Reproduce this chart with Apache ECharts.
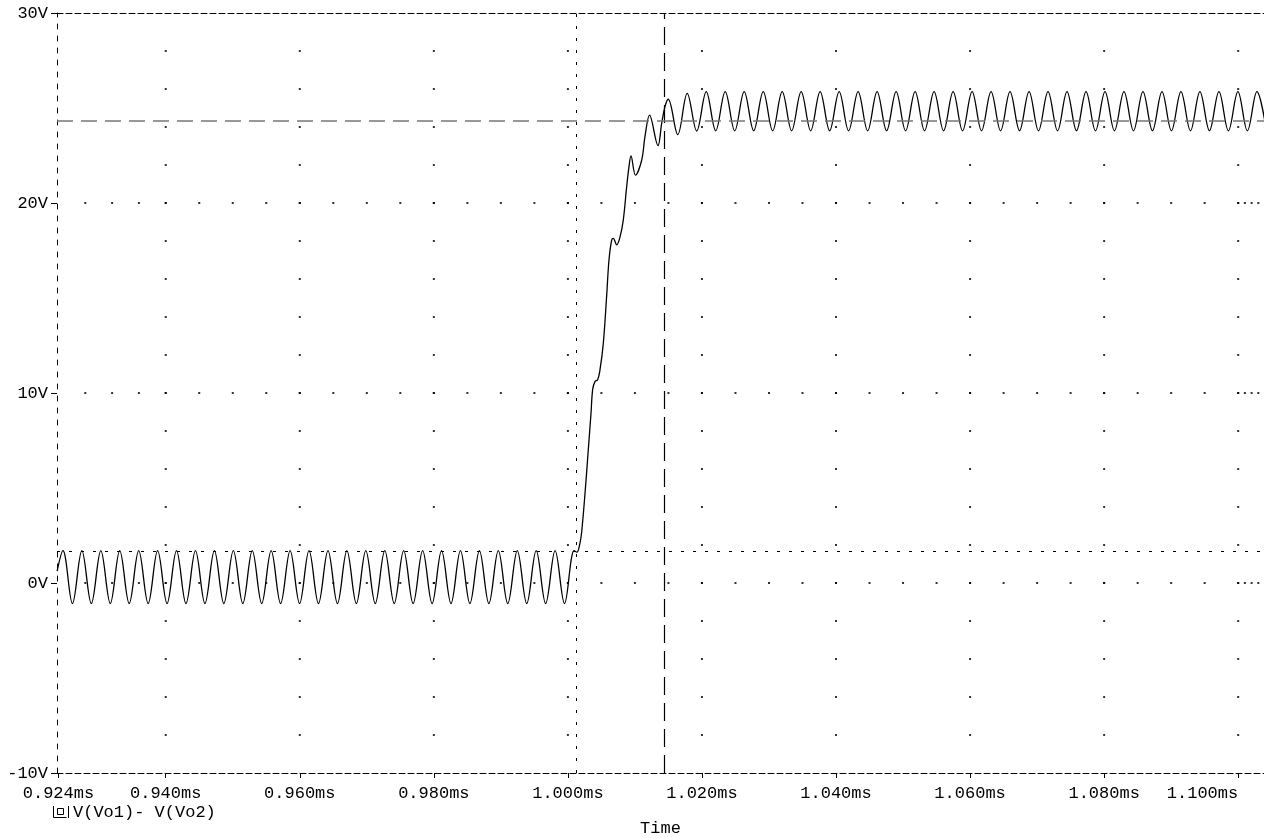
<!DOCTYPE html>
<html>
<head>
<meta charset="utf-8">
<title>V(Vo1)- V(Vo2)</title>
<script src="https://cdn.jsdelivr.net/npm/echarts@6.0.0/dist/echarts.min.js"></script>
<style>
  html, body { margin: 0; padding: 0; background: #fff; }
  #chart { width: 1264px; height: 838px; }
</style>
</head>
<body>
<div id="chart"></div>
<script>
// axis ticks
const timeTicks = [0.924, 0.94, 0.96, 0.98, 1.0, 1.02, 1.04, 1.06, 1.08, 1.1];
const voltTicks = [-10, 0, 10, 20, 30];

// waveform: time in ms, voltage in V
// before the step: ripple around ~0.3V
const lowT = [0.92380,
  0.92467, 0.92608, 0.92749, 0.92890, 0.93032, 0.93173, 0.93314, 0.93455,
  0.93597, 0.93738, 0.93879, 0.94020, 0.94161, 0.94302, 0.94444, 0.94585,
  0.94726, 0.94867, 0.95009, 0.95150, 0.95291, 0.95432, 0.95573, 0.95714,
  0.95856, 0.95997, 0.96138, 0.96279, 0.96421, 0.96562, 0.96703, 0.96844,
  0.96985, 0.97126, 0.97268, 0.97409, 0.97550, 0.97691, 0.97833, 0.97974,
  0.98115, 0.98256, 0.98397, 0.98538, 0.98680, 0.98821, 0.98962, 0.99103,
  0.99245, 0.99386, 0.99527, 0.99668, 0.99809, 0.99950, 1.00092];
const lowV = [0.62,
  1.70, -1.08, 1.70, -1.08, 1.70, -1.08, 1.70, -1.08,
  1.70, -1.08, 1.70, -1.08, 1.70, -1.08, 1.70, -1.08,
  1.70, -1.08, 1.70, -1.08, 1.70, -1.08, 1.70, -1.08,
  1.70, -1.08, 1.70, -1.08, 1.70, -1.08, 1.70, -1.08,
  1.70, -1.08, 1.70, -1.08, 1.70, -1.08, 1.70, -1.08,
  1.70, -1.08, 1.70, -1.08, 1.70, -1.08, 1.70, -1.08,
  1.70, -1.08, 1.70, -1.08, 1.70, -1.08, 1.70];

// the staircase rise
const rampT = [1.00135, 1.00180, 1.00206, 1.00255, 1.00304, 1.00344, 1.00370,
  1.00404, 1.00444, 1.00478, 1.00528, 1.00578, 1.00613, 1.00653, 1.00677,
  1.00728, 1.00777, 1.00826, 1.00877, 1.00911, 1.00941, 1.01008, 1.01101,
  1.01150, 1.01218, 1.01344, 1.01399, 1.01448];
const rampV = [1.62, 2.10, 2.70, 4.70, 7.00, 8.90, 10.20,
  10.60, 10.70, 11.20, 12.60, 15.10, 17.00, 18.05, 18.14,
  17.80, 18.20, 19.10, 20.86, 21.90, 22.48, 21.47, 22.26,
  23.50, 24.62, 23.02, 24.19, 25.07];

// after the step: ripple around ~24.8V
const highT = [
  1.01497, 1.01639, 1.01780, 1.01922, 1.02064, 1.02205, 1.02347, 1.02489,
  1.02630, 1.02772, 1.02914, 1.03055, 1.03197, 1.03338, 1.03480, 1.03622,
  1.03763, 1.03905, 1.04047, 1.04188, 1.04330, 1.04472, 1.04613, 1.04755,
  1.04897, 1.05038, 1.05180, 1.05321, 1.05463, 1.05605, 1.05747, 1.05888,
  1.06030, 1.06171, 1.06313, 1.06455, 1.06596, 1.06738, 1.06880, 1.07021,
  1.07163, 1.07305, 1.07446, 1.07588, 1.07730, 1.07871, 1.08013, 1.08154,
  1.08296, 1.08438, 1.08579, 1.08721, 1.08863, 1.09004, 1.09146, 1.09288,
  1.09429, 1.09571, 1.09713, 1.09854, 1.09996, 1.10137, 1.10279, 1.10421];
const highV = [
  25.46, 23.60, 25.77, 23.79, 25.86, 23.80, 25.86, 23.80,
  25.86, 23.80, 25.86, 23.80, 25.86, 23.80, 25.86, 23.80,
  25.86, 23.80, 25.86, 23.80, 25.86, 23.80, 25.86, 23.80,
  25.86, 23.80, 25.86, 23.80, 25.86, 23.80, 25.86, 23.80,
  25.86, 23.80, 25.86, 23.80, 25.86, 23.80, 25.86, 23.80,
  25.86, 23.80, 25.86, 23.80, 25.86, 23.80, 25.86, 23.80,
  25.86, 23.80, 25.86, 23.80, 25.86, 23.80, 25.86, 23.80,
  25.86, 23.80, 25.86, 23.80, 25.86, 23.80, 25.86, 23.80];

// probe cursors
const cursorTimes = [1.00131, 1.01438];   // dotted, long dash
const cursorVolts = [1.65, 24.34];        // dotted, long dash (grey)

const X_MIN = 0.92378, X_MAX = 1.10385;
const FONT = 'Liberation Mono';

// dotted grid: dots on the vertical lines every 2V, on the horizontal lines at the minor time steps
const vertDotVolts = [];
for (let v = -8; v <= 28; v += 2) vertDotVolts.push(v);
const horizGridVolts = [0, 10, 20];
const horizDotTimes = [0.928, 0.932, 0.936];
for (let t = 940; t <= 1100; t += 5) horizDotTimes.push(t / 1000);
horizDotTimes.push(1.101, 1.102, 1.103);

const gridDots = [];
timeTicks.slice(1).forEach(t => vertDotVolts.forEach(v => gridDots.push([t, v])));
horizGridVolts.forEach(v => horizDotTimes.forEach(t => gridDots.push([t, v])));

const wave = [];
[[lowT, lowV], [rampT, rampV], [highT, highV]].forEach(([ts, vs]) => {
  ts.forEach((t, i) => wave.push([t, vs[i]]));
});

const chart = echarts.init(document.getElementById('chart'), null, { renderer: 'canvas' });

chart.setOption({
  animation: false,
  backgroundColor: '#fff',
  textStyle: { fontFamily: FONT },
  grid: { left: 57, top: 13, right: 0, bottom: 65, outerBoundsMode: 'none' },
  xAxis: [{
    type: 'value',
    min: X_MIN,
    max: X_MAX,
    position: 'bottom',
    name: 'Time',
    nameLocation: 'middle',
    nameGap: 47,
    nameTextStyle: { fontFamily: FONT, fontSize: 17, color: '#000' },
    axisLine: { show: true, onZero: false, lineStyle: { color: '#000', width: 1, type: [6, 3] } },
    axisTick: { show: true, inside: false, length: 5, customValues: timeTicks, lineStyle: { color: '#000' } },
    axisLabel: {
      customValues: timeTicks,
      formatter: v => v.toFixed(3) + 'ms',
      fontFamily: FONT, fontSize: 17, color: '#000', margin: 12,
      alignMaxLabel: 'right'
    },
    splitLine: { show: false }
  }, {
    type: 'value',
    min: X_MIN,
    max: X_MAX,
    position: 'top',
    axisLine: { show: true, onZero: false, lineStyle: { color: '#000', width: 1, type: [6, 3] } },
    axisTick: { show: false },
    axisLabel: { show: false },
    splitLine: { show: false }
  }],
  yAxis: {
    type: 'value',
    min: voltTicks[0],
    max: voltTicks[voltTicks.length - 1],
    interval: 10,
    axisLine: { show: true, onZero: false, lineStyle: { color: '#000', width: 1, type: [5, 7] } },
    axisTick: { show: true, inside: false, length: 6, lineStyle: { color: '#000' } },
    axisLabel: { formatter: '{value}V', fontFamily: FONT, fontSize: 17, color: '#000', margin: 9 },
    splitLine: { show: false }
  },
  graphic: [
    // legend marker and label
    { type: 'polyline', shape: { points: [[53.5, 806], [53.5, 817.5], [66.5, 817.5]] }, style: { stroke: '#000', fill: null, lineWidth: 1 } },
    { type: 'rect', shape: { x: 57.5, y: 808.5, width: 6, height: 6 }, style: { stroke: '#000', fill: null, lineWidth: 1 } },
    { type: 'line', shape: { x1: 68.5, y1: 806, x2: 68.5, y2: 818 }, style: { stroke: '#000', lineWidth: 1 } },
    { type: 'text', x: 73, y: 812, style: { text: 'V(Vo1)- V(Vo2)', font: '17px "Liberation Mono"', fill: '#000', verticalAlign: 'middle' } }
  ],
  series: [{
    type: 'scatter',
    silent: true,
    z: 1,
    symbol: 'rect',
    symbolSize: 2,
    itemStyle: { color: '#000' },
    data: gridDots
  }, {
    type: 'line',
    name: 'V(Vo1)- V(Vo2)',
    z: 2,
    data: wave,
    showSymbol: false,
    smooth: 0.36,
    clip: true,
    lineStyle: { color: '#000', width: 1.3 },
    markLine: {
      silent: true,
      precision: 6,
      symbol: ['none', 'none'],
      label: { show: false },
      data: [
        { xAxis: cursorTimes[0], lineStyle: { color: '#000', width: 1, type: [3, 9] } },
        { yAxis: cursorVolts[0], lineStyle: { color: '#000', width: 1, type: [3, 9] } },
        { xAxis: cursorTimes[1], lineStyle: { color: '#000', width: 1.2, type: [18, 8] } },
        { yAxis: cursorVolts[1], lineStyle: { color: '#777', width: 1.5, type: [16, 8] } }
      ]
    }
  }]
});
</script>
</body>
</html>
